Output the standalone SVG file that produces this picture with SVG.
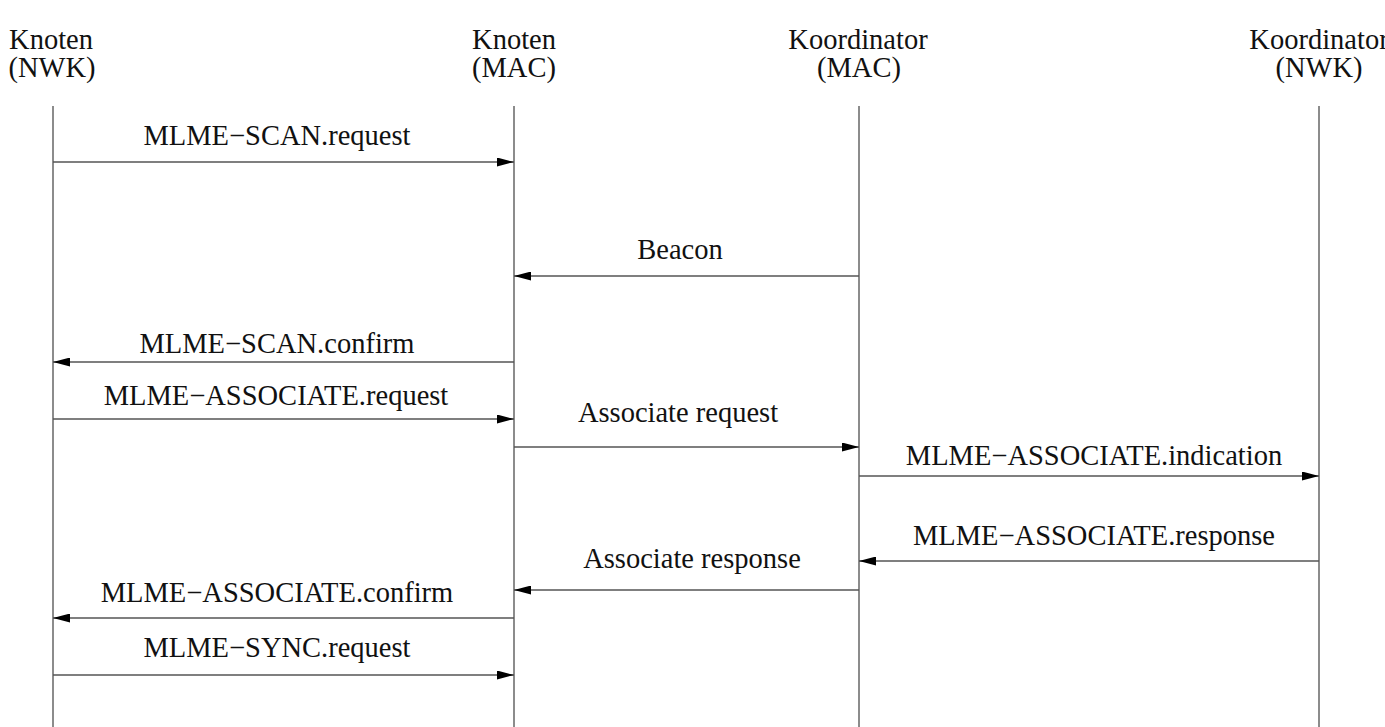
<svg xmlns="http://www.w3.org/2000/svg" width="1385" height="727" viewBox="0 0 1385 727">
<style>
text{font-family:"Liberation Serif","Times New Roman",serif;font-size:28.5px;fill:#111;text-anchor:middle}
.life{stroke:#666;stroke-width:1.5;fill:none}
.msg{stroke:#555;stroke-width:1.5;fill:none}
</style>
<defs>
<marker id="ah" markerWidth="17" markerHeight="9" refX="17" refY="4.5" orient="auto" markerUnits="userSpaceOnUse">
<path d="M0,0 L17,4.5 L0,9 Z" fill="#000"/>
</marker>
</defs>
<rect width="1385" height="727" fill="#fff"/>
<g id="knoten-nwk">
<text x="51" y="49">Knoten</text>
<text x="52" y="77">(NWK)</text>
<line class="life" x1="53" y1="106" x2="53" y2="727"/>
</g>
<g id="knoten-mac">
<text x="514" y="49">Knoten</text>
<text x="514" y="77">(MAC)</text>
<line class="life" x1="514" y1="106" x2="514" y2="727"/>
</g>
<g id="koordinator-mac">
<text x="858" y="49">Koordinator</text>
<text x="859" y="77">(MAC)</text>
<line class="life" x1="859" y1="106" x2="859" y2="727"/>
</g>
<g id="koordinator-nwk">
<text x="1319" y="49">Koordinator</text>
<text x="1319" y="77">(NWK)</text>
<line class="life" x1="1319" y1="106" x2="1319" y2="727"/>
</g>
<g id="connectors">
<line class="msg" x1="53" y1="162" x2="514" y2="162" marker-end="url(#ah)"/>
<text x="277" y="145">MLME−SCAN.request</text>
<line class="msg" x1="859" y1="276" x2="514" y2="276" marker-end="url(#ah)"/>
<text x="680" y="259">Beacon</text>
<line class="msg" x1="514" y1="362" x2="53" y2="362" marker-end="url(#ah)"/>
<text x="277" y="353">MLME−SCAN.confirm</text>
<line class="msg" x1="53" y1="419" x2="514" y2="419" marker-end="url(#ah)"/>
<text x="276" y="405">MLME−ASSOCIATE.request</text>
<line class="msg" x1="514" y1="447" x2="859" y2="447" marker-end="url(#ah)"/>
<text x="678" y="422">Associate request</text>
<line class="msg" x1="859" y1="476" x2="1319" y2="476" marker-end="url(#ah)"/>
<text x="1094" y="465">MLME−ASSOCIATE.indication</text>
<line class="msg" x1="1319" y1="561" x2="859" y2="561" marker-end="url(#ah)"/>
<text x="1094" y="545">MLME−ASSOCIATE.response</text>
<line class="msg" x1="859" y1="590" x2="514" y2="590" marker-end="url(#ah)"/>
<text x="692" y="568">Associate response</text>
<line class="msg" x1="514" y1="618" x2="53" y2="618" marker-end="url(#ah)"/>
<text x="277" y="602">MLME−ASSOCIATE.confirm</text>
<line class="msg" x1="53" y1="675" x2="514" y2="675" marker-end="url(#ah)"/>
<text x="277" y="657">MLME−SYNC.request</text>
</g>
</svg>
